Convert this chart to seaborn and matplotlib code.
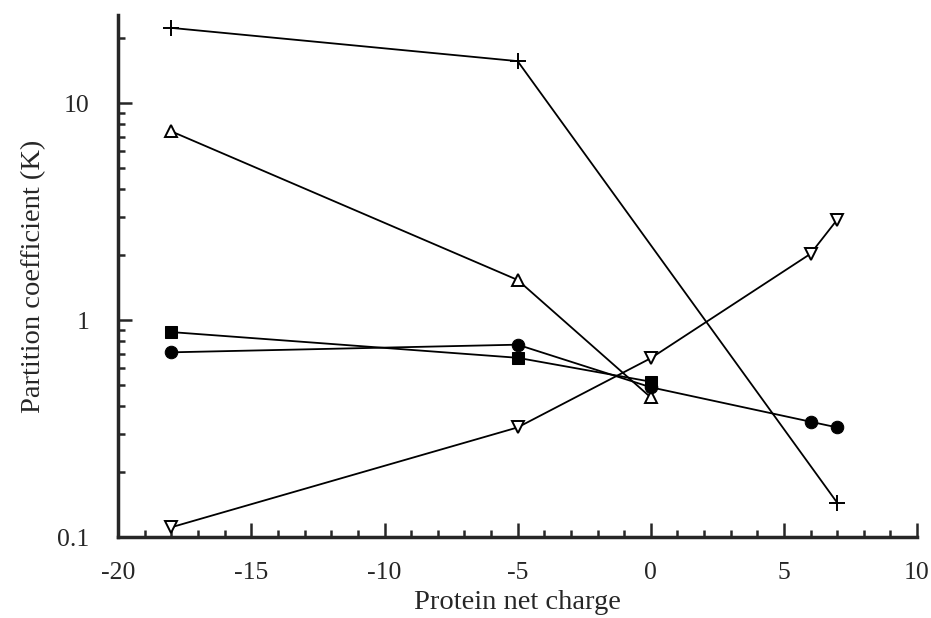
import numpy as np
import pandas as pd
import matplotlib
matplotlib.use("Agg")
import matplotlib.pyplot as plt
import matplotlib.ticker as mticker
import seaborn as sns

# protein net charge and partition coefficient per series
plus_x = [-18, -5, 7]
plus_k = [22.2, 15.6, 0.144]

tri_up_x = [-18, -5, 0]
tri_up_k = [7.4, 1.53, 0.44]

tri_down_x = [-18, -5, 0, 6, 7]
tri_down_k = [0.111, 0.32, 0.667, 2.02, 2.9]

square_x = [-18, -5, 0]
square_k = [0.88, 0.67, 0.52]

circle_x = [-18, -5, 0, 6, 7]
circle_k = [0.71, 0.77, 0.49, 0.34, 0.32]

sns.set_style("ticks")
plt.rcParams['font.family'] = ['Liberation Serif', 'DejaVu Serif']

fig = plt.figure(figsize=(9.31, 6.18), dpi=100)
ax = fig.add_axes([0.127, 0.131, 0.858, 0.845])

series = [
    (plus_x, plus_k, dict(marker='+', markersize=11, markeredgewidth=1.4,
                          markeredgecolor='black')),
    (tri_up_x, tri_up_k, dict(marker='^', markersize=8, markerfacecolor='white',
                              markeredgecolor='black', markeredgewidth=1.4)),
    (tri_down_x, tri_down_k, dict(marker='v', markersize=8, markerfacecolor='white',
                                  markeredgecolor='black', markeredgewidth=1.4)),
    (square_x, square_k, dict(marker='s', markersize=8, markerfacecolor='black',
                              markeredgecolor='black')),
    (circle_x, circle_k, dict(marker='o', markersize=9, markerfacecolor='black',
                              markeredgecolor='black')),
]

for xs, ks, style in series:
    df = pd.DataFrame({'charge': xs, 'K': ks})
    sns.lineplot(data=df, x='charge', y='K', ax=ax, color='black',
                 linewidth=1.3, sort=False, **style)

ax.set_yscale('log')
ax.set_xlim(-20, 10)
ax.set_ylim(0.1, 25.5)

ax.set_xticks([-20, -15, -10, -5, 0, 5, 10])
ax.set_xticklabels(['-20', '-15', '-10', '-5', '0', '5', '10'])
ax.xaxis.set_minor_locator(mticker.MultipleLocator(1))
ax.set_yticks([0.1, 1, 10])
ax.set_yticklabels(['0.1', '1', '10'])
ax.yaxis.set_minor_locator(mticker.LogLocator(base=10, subs=np.arange(2, 10)))
ax.yaxis.set_minor_formatter(mticker.NullFormatter())

ax.tick_params(which='major', direction='in', length=10, width=1.8, labelsize=18.5)
ax.tick_params(which='minor', direction='in', length=5, width=1.8)
ax.tick_params(axis='x', which='major', pad=18)
ax.tick_params(axis='y', which='major', pad=21)

for side in ['top', 'right']:
    ax.spines[side].set_visible(False)
for side in ['left', 'bottom']:
    ax.spines[side].set_linewidth(2.5)

ax.set_xlabel("Protein net charge", fontsize=20.5, labelpad=4)
ax.set_ylabel("Partition coefficient (K)", fontsize=20.5, labelpad=8)

fig.savefig("out.png", dpi=100)
